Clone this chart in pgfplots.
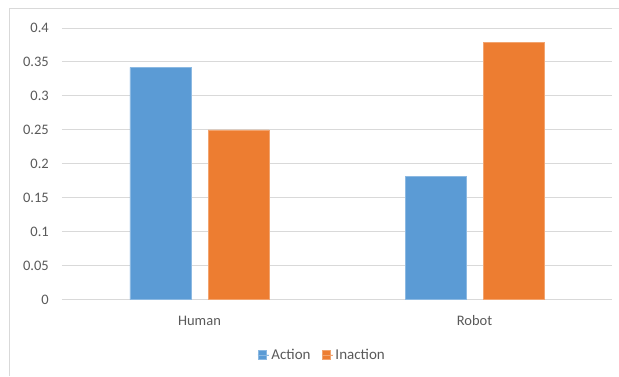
\documentclass[border=0pt]{standalone}
\usepackage{fontspec}
\setmainfont{Carlito}
\usepackage{pgfplots}
\pgfplotsset{compat=1.18}
\definecolor{actcol}{RGB}{91,155,213}
\definecolor{inacol}{RGB}{237,125,49}
\definecolor{gridcol}{RGB}{217,217,217}
\definecolor{txtcol}{RGB}{89,89,89}
\begin{document}
\begin{tikzpicture}
\path[use as bounding box] (0pt,0pt) rectangle (619pt,376pt);
\draw[gridcol, line width=1pt] (9pt,0pt) -- (9pt,367pt) -- (620pt,367pt);
\begin{axis}[
  at={(62pt,76.5pt)}, anchor=south west,
  scale only axis, width=550pt, height=271.5pt,
  xmin=-0.5, xmax=1.5, ymin=0, ymax=0.4,
  xtick={0,1}, xticklabels={Human,Robot},
  ytick={0,0.05,...,0.41},
  yticklabels={0,0.05,0.1,0.15,0.2,0.25,0.3,0.35,0.4},
  axis line style={draw=none},
  major tick length=0pt,
  ymajorgrids, grid style={gridcol, line width=1pt},
  tick label style={font=\fontsize{14.5}{16}\selectfont, text=txtcol},
  yticklabel style={anchor=east, inner sep=0pt, xshift=-13pt},
  xticklabel style={anchor=base, inner sep=0pt, yshift=-26pt},
  /pgf/number format/assume math mode=true,
  ybar, bar width=61pt,
  legend style={at={(0.473,-0.204)}, anchor=center, draw=none, fill=none,
    font=\fontsize{15}{16}\selectfont, text=txtcol, legend columns=2,
    /tikz/every even column/.append style={column sep=9pt}},
  legend image code/.code={\fill[#1] (0pt,-4.5pt) rectangle (8.5pt,4.5pt);\path (0pt,0pt) -- (11.5pt,0pt);},
]
\addplot[fill=actcol, draw=actcol!70!white, bar shift=-39pt] coordinates {(0,0.342) (1,0.181)};
\addplot[fill=inacol, draw=inacol!70!white, bar shift=39pt] coordinates {(0,0.25) (1,0.379)};
\legend{Action,Inaction}
\end{axis}
\end{tikzpicture}
\end{document}
